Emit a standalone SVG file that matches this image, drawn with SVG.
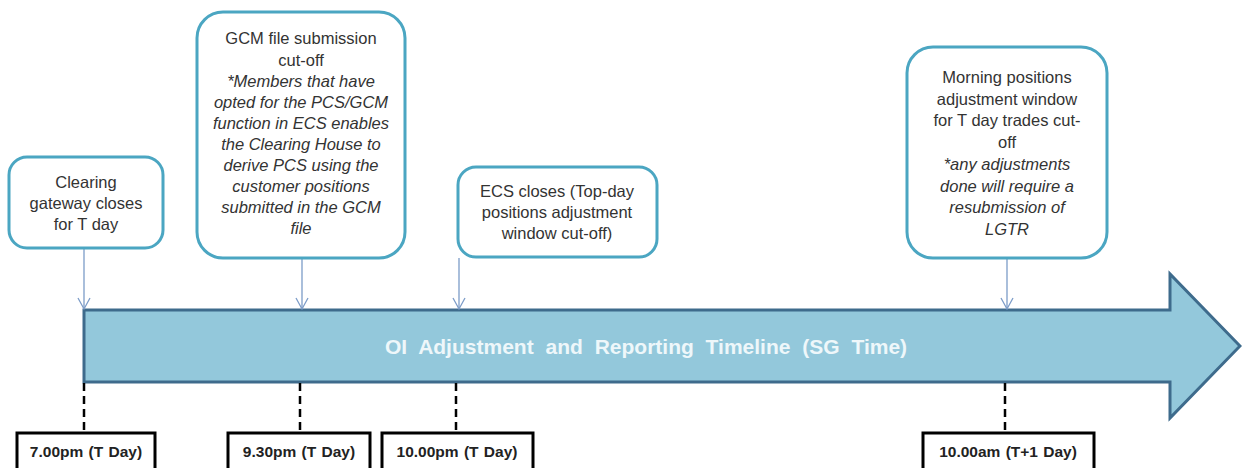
<svg xmlns="http://www.w3.org/2000/svg" width="1242" height="468" viewBox="0 0 1242 468">
<style>
.box{fill:#fff;stroke:#4BA6C2;stroke-width:3}
.t{font-family:"Liberation Sans",Arial,sans-serif;font-size:16.5px;fill:#333;text-anchor:middle}
.i{font-style:italic}
.conn{stroke:#7C9CC8;stroke-width:1.3;fill:none}
.dash{stroke:#000;stroke-width:2.5;stroke-dasharray:8 5;fill:none}
.tbox{fill:#fff;stroke:#000;stroke-width:3}
.tt{font-family:"Liberation Sans",Arial,sans-serif;font-size:15.5px;font-weight:bold;fill:#222;text-anchor:middle;word-spacing:1px}
</style>
<defs>
<marker id="ah" markerUnits="userSpaceOnUse" markerWidth="14" markerHeight="14" viewBox="0 0 14 14" refX="12" refY="7" orient="auto">
<path d="M1,1 L12,7 L1,13" fill="none" stroke="#7C9CC8" stroke-width="1.3"/>
</marker>
</defs>
<rect width="1242" height="468" fill="#fff"/>
<g id="timeline">
<path d="M84,310 L1170,310 L1170,274 L1240,346 L1170,418 L1170,382 L84,382 Z" fill="#93C8DB" stroke="#3E6B8C" stroke-width="3"/>
<text x="646" y="354" font-family="Liberation Sans,Arial,sans-serif" font-size="21" font-weight="bold" fill="#EEF7FA" text-anchor="middle" word-spacing="6">OI Adjustment and Reporting Timeline (SG Time)</text>
</g>
<g id="connectors">
<line class="conn" x1="84" y1="249" x2="84" y2="309" marker-end="url(#ah)"/>
<line class="conn" x1="302" y1="259" x2="302" y2="309" marker-end="url(#ah)"/>
<line class="conn" x1="459" y1="258" x2="459" y2="309" marker-end="url(#ah)"/>
<line class="conn" x1="1007" y1="259" x2="1007" y2="309" marker-end="url(#ah)"/>
<line class="dash" x1="84" y1="383" x2="84" y2="433"/>
<line class="dash" x1="300" y1="383" x2="300" y2="433"/>
<line class="dash" x1="456" y1="383" x2="456" y2="433"/>
<line class="dash" x1="1005" y1="383" x2="1005" y2="433"/>
</g>
<g id="node-clearing">
<rect class="box" x="9" y="157" width="154" height="91" rx="18"/>
<text class="t" x="86" y="188">Clearing</text>
<text class="t" x="86" y="209">gateway closes</text>
<text class="t" x="86" y="230">for T day</text>
</g>
<g id="node-gcm">
<rect class="box" x="197" y="12" width="208" height="246" rx="26"/>
<text class="t" x="301" y="44">GCM file submission</text>
<text class="t" x="301" y="66">cut-off</text>
<text class="t i" x="301" y="87">*Members that have</text>
<text class="t i" x="301" y="108">opted for the PCS/GCM</text>
<text class="t i" x="301" y="129">function in ECS enables</text>
<text class="t i" x="301" y="150">the Clearing House to</text>
<text class="t i" x="301" y="171">derive PCS using the</text>
<text class="t i" x="301" y="192">customer positions</text>
<text class="t i" x="301" y="213">submitted in the GCM</text>
<text class="t i" x="301" y="234">file</text>
</g>
<g id="node-ecs">
<rect class="box" x="458" y="167" width="199" height="90" rx="18"/>
<text class="t" x="557" y="197">ECS closes (Top-day</text>
<text class="t" x="557" y="218">positions adjustment</text>
<text class="t" x="557" y="239">window cut-off)</text>
</g>
<g id="node-morning">
<rect class="box" x="907" y="47" width="200" height="211" rx="26"/>
<text class="t" x="1007" y="83">Morning positions</text>
<text class="t" x="1007" y="105">adjustment window</text>
<text class="t" x="1007" y="126">for T day trades cut-</text>
<text class="t" x="1007" y="148">off</text>
<text class="t i" x="1007" y="170">*any adjustments</text>
<text class="t i" x="1007" y="192">done will require a</text>
<text class="t i" x="1007" y="213">resubmission of</text>
<text class="t i" x="1007" y="235">LGTR</text>
</g>
<g id="time-1">
<rect class="tbox" x="17" y="433" width="138" height="50"/>
<text class="tt" x="86" y="457">7.00pm (T Day)</text>
</g>
<g id="time-2">
<rect class="tbox" x="228" y="433" width="142" height="50"/>
<text class="tt" x="299" y="457">9.30pm (T Day)</text>
</g>
<g id="time-3">
<rect class="tbox" x="382" y="433" width="151" height="50"/>
<text class="tt" x="457" y="457">10.00pm (T Day)</text>
</g>
<g id="time-4">
<rect class="tbox" x="923" y="433" width="171" height="50"/>
<text class="tt" x="1008" y="457">10.00am (T+1 Day)</text>
</g>
</svg>
